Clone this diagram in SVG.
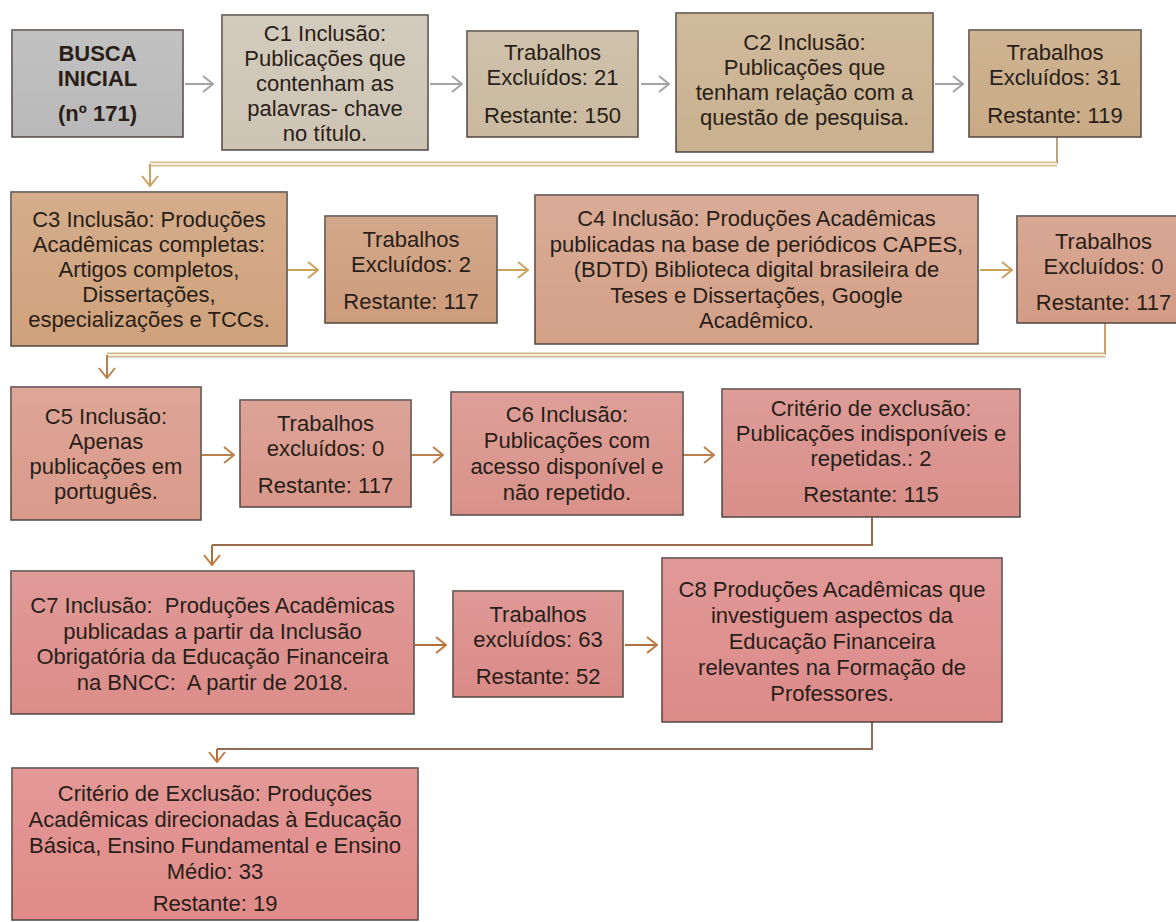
<svg xmlns="http://www.w3.org/2000/svg" width="1176" height="922" viewBox="0 0 1176 922">
<style>
.box{stroke:#4f4640;stroke-width:1.5}
.t{font-family:"Liberation Sans",Arial,sans-serif;font-size:22px;fill:#2a1e18;text-anchor:middle}
.b{font-weight:bold}
.a1{fill:none;stroke:#a3a3a3;stroke-width:2}
.a2{fill:none;stroke:#c9a35c;stroke-width:2}
.a3{fill:none;stroke:#b9824c;stroke-width:2}
.a4{fill:none;stroke:#b06e3e;stroke-width:2}
.band{fill:none;stroke:#d3bd92;stroke-width:5}
.bandin{fill:none;stroke:#f6efdb;stroke-width:2}
</style>
<defs>
<linearGradient id="sh" x1="0" y1="0" x2="0" y2="1">
<stop offset="0" stop-color="#ffffff" stop-opacity="0.12"/>
<stop offset="1" stop-color="#ffffff" stop-opacity="0"/>
</linearGradient>
<marker id="m1" viewBox="0 0 12 18" refX="11" refY="9" markerWidth="12" markerHeight="18" markerUnits="userSpaceOnUse" orient="auto"><path d="M1,1 L11,9 L1,17" fill="none" stroke="#a3a3a3" stroke-width="2"/></marker>
<marker id="m2" viewBox="0 0 12 18" refX="11" refY="9" markerWidth="12" markerHeight="18" markerUnits="userSpaceOnUse" orient="auto"><path d="M1,1 L11,9 L1,17" fill="none" stroke="#c9a35c" stroke-width="2"/></marker>
<marker id="m3" viewBox="0 0 12 18" refX="11" refY="9" markerWidth="12" markerHeight="18" markerUnits="userSpaceOnUse" orient="auto"><path d="M1,1 L11,9 L1,17" fill="none" stroke="#b9824c" stroke-width="2"/></marker>
<marker id="m4" viewBox="0 0 12 18" refX="11" refY="9" markerWidth="12" markerHeight="18" markerUnits="userSpaceOnUse" orient="auto"><path d="M1,1 L11,9 L1,17" fill="none" stroke="#c47a3e" stroke-width="2"/></marker>
</defs>
<rect width="1176" height="922" fill="#ffffff"/>

<g id="connectors">
<line class="a1" x1="185" y1="84" x2="213" y2="84" marker-end="url(#m1)"/>
<line class="a1" x1="430" y1="84" x2="462" y2="84" marker-end="url(#m1)"/>
<line class="a1" x1="641" y1="84" x2="669" y2="84" marker-end="url(#m1)"/>
<line class="a1" x1="935" y1="84" x2="963" y2="84" marker-end="url(#m1)"/>
<path d="M1057,137 V164" fill="none" stroke="#b5a27e" stroke-width="2"/>
<path class="band" d="M1057,164 H150"/>
<path class="bandin" d="M1057,164 H150"/>
<path class="a2" d="M150,164 V186" marker-end="url(#m2)"/>

<line class="a2" x1="288" y1="270" x2="318" y2="270" marker-end="url(#m2)"/>
<line class="a2" x1="498" y1="270" x2="528" y2="270" marker-end="url(#m2)"/>
<line class="a2" x1="980" y1="270" x2="1012" y2="270" marker-end="url(#m2)"/>
<path d="M1105,323 V355" fill="none" stroke="#c9a06c" stroke-width="2"/>
<path class="band" d="M1105,355 H107" style="stroke:#d4b68c"/>
<path class="bandin" d="M1105,355 H107"/>
<path class="a3" d="M107,355 V378" marker-end="url(#m3)"/>

<line class="a3" x1="202" y1="455" x2="234" y2="455" marker-end="url(#m3)"/>
<line class="a3" x1="412" y1="455" x2="443" y2="455" marker-end="url(#m3)"/>
<line class="a3" x1="683" y1="455" x2="714" y2="455" marker-end="url(#m3)"/>
<path d="M872,517 V545 H212" fill="none" stroke="#9c6b4e" stroke-width="2"/>
<path class="a4" d="M212,545 V565" marker-end="url(#m4)"/>

<line class="a4" x1="415" y1="645" x2="446" y2="645" marker-end="url(#m4)"/>
<line class="a4" x1="625" y1="645" x2="657" y2="645" marker-end="url(#m4)"/>
<path d="M872,722 V749 H217" fill="none" stroke="#8e6a58" stroke-width="2"/>
<path class="a4" d="M217,749 V762" marker-end="url(#m4)"/>
</g>

<g id="busca">
<rect class="box" x="12" y="30" width="171" height="107" fill="#b9b9b9"/>
<rect x="12" y="30" width="171" height="107" fill="url(#sh)"/>
<text class="t b"><tspan x="97.5" y="61">BUSCA</tspan><tspan x="97.5" y="86">INICIAL</tspan><tspan x="97.5" y="121">(nº 171)</tspan></text>
</g>

<g id="c1">
<rect class="box" x="222" y="15" width="206" height="135" fill="#cdc4b4"/>
<rect x="222" y="15" width="206" height="135" fill="url(#sh)"/>
<text class="t"><tspan x="325" y="41">C1 Inclusão:</tspan><tspan x="325" y="66">Publicações que</tspan><tspan x="325" y="91">contenham as</tspan><tspan x="325" y="116">palavras- chave</tspan><tspan x="325" y="141">no título.</tspan></text>
</g>

<g id="trab21">
<rect class="box" x="467" y="31" width="171" height="106" fill="#c9b9a0"/>
<rect x="467" y="31" width="171" height="106" fill="url(#sh)"/>
<text class="t"><tspan x="552.5" y="60">Trabalhos</tspan><tspan x="552.5" y="85">Excluídos: 21</tspan><tspan x="552.5" y="123">Restante: 150</tspan></text>
</g>

<g id="c2">
<rect class="box" x="676" y="13" width="257" height="139" fill="#c9b18f"/>
<rect x="676" y="13" width="257" height="139" fill="url(#sh)"/>
<text class="t"><tspan x="804.5" y="50">C2 Inclusão:</tspan><tspan x="804.5" y="75">Publicações que</tspan><tspan x="804.5" y="100">tenham relação com a</tspan><tspan x="804.5" y="125">questão de pesquisa.</tspan></text>
</g>

<g id="trab31">
<rect class="box" x="969" y="30" width="172" height="107" fill="#c8aa85"/>
<rect x="969" y="30" width="172" height="107" fill="url(#sh)"/>
<text class="t"><tspan x="1055" y="60">Trabalhos</tspan><tspan x="1055" y="85">Excluídos: 31</tspan><tspan x="1055" y="123">Restante: 119</tspan></text>
</g>

<g id="c3">
<rect class="box" x="11" y="192" width="276" height="154" fill="#cfa27c"/>
<rect x="11" y="192" width="276" height="154" fill="url(#sh)"/>
<text class="t"><tspan x="149" y="227">C3 Inclusão: Produções</tspan><tspan x="149" y="252">Acadêmicas completas:</tspan><tspan x="149" y="277">Artigos completos,</tspan><tspan x="149" y="302">Dissertações,</tspan><tspan x="149" y="327">especializações e TCCs.</tspan></text>
</g>

<g id="trab2">
<rect class="box" x="325" y="216" width="172" height="107" fill="#cd9c7c"/>
<rect x="325" y="216" width="172" height="107" fill="url(#sh)"/>
<text class="t"><tspan x="411" y="247">Trabalhos</tspan><tspan x="411" y="272">Excluídos: 2</tspan><tspan x="411" y="309">Restante: 117</tspan></text>
</g>

<g id="c4">
<rect class="box" x="535" y="195" width="443" height="149" fill="#d4a088"/>
<rect x="535" y="195" width="443" height="149" fill="url(#sh)"/>
<text class="t"><tspan x="756.5" y="226">C4 Inclusão: Produções Acadêmicas</tspan><tspan x="756.5" y="251.5">publicadas na base de periódicos CAPES,</tspan><tspan x="756.5" y="277">(BDTD) Biblioteca digital brasileira de</tspan><tspan x="756.5" y="302.5">Teses e Dissertações, Google</tspan><tspan x="756.5" y="328">Acadêmico.</tspan></text>
</g>

<g id="trab0a">
<rect class="box" x="1017" y="216" width="173" height="107" fill="#d39c86"/>
<rect x="1017" y="216" width="173" height="107" fill="url(#sh)"/>
<text class="t"><tspan x="1103.5" y="249">Trabalhos</tspan><tspan x="1103.5" y="274">Excluídos: 0</tspan><tspan x="1103.5" y="310">Restante: 117</tspan></text>
</g>

<g id="c5">
<rect class="box" x="11" y="387" width="190" height="133" fill="#d99a8a"/>
<rect x="11" y="387" width="190" height="133" fill="url(#sh)"/>
<text class="t"><tspan x="106" y="424">C5 Inclusão:</tspan><tspan x="106" y="449">Apenas</tspan><tspan x="106" y="474">publicações em</tspan><tspan x="106" y="499">português.</tspan></text>
</g>

<g id="trab0b">
<rect class="box" x="240" y="400" width="171" height="107" fill="#d8978a"/>
<rect x="240" y="400" width="171" height="107" fill="url(#sh)"/>
<text class="t"><tspan x="325.5" y="431">Trabalhos</tspan><tspan x="325.5" y="456">excluídos: 0</tspan><tspan x="325.5" y="493">Restante: 117</tspan></text>
</g>

<g id="c6">
<rect class="box" x="451" y="392" width="232" height="123" fill="#d9928a"/>
<rect x="451" y="392" width="232" height="123" fill="url(#sh)"/>
<text class="t"><tspan x="567" y="422">C6 Inclusão:</tspan><tspan x="567" y="448">Publicações com</tspan><tspan x="567" y="474">acesso disponível e</tspan><tspan x="567" y="500">não repetido.</tspan></text>
</g>

<g id="exclusao1">
<rect class="box" x="722" y="389" width="298" height="128" fill="#d98f8a"/>
<rect x="722" y="389" width="298" height="128" fill="url(#sh)"/>
<text class="t"><tspan x="871" y="416">Critério de exclusão:</tspan><tspan x="871" y="441">Publicações indisponíveis e</tspan><tspan x="871" y="466">repetidas.: 2</tspan><tspan x="871" y="502">Restante: 115</tspan></text>
</g>

<g id="c7">
<rect class="box" x="11" y="571" width="403" height="143" fill="#dc8d8a"/>
<rect x="11" y="571" width="403" height="143" fill="url(#sh)"/>
<text class="t" xml:space="preserve"><tspan x="212.5" y="613">C7 Inclusão:  Produções Acadêmicas</tspan><tspan x="212.5" y="638.5">publicadas a partir da Inclusão</tspan><tspan x="212.5" y="664">Obrigatória da Educação Financeira</tspan><tspan x="212.5" y="689.5">na BNCC:  A partir de 2018.</tspan></text>
</g>

<g id="trab63">
<rect class="box" x="453" y="591" width="170" height="106" fill="#da8b88"/>
<rect x="453" y="591" width="170" height="106" fill="url(#sh)"/>
<text class="t"><tspan x="538" y="622">Trabalhos</tspan><tspan x="538" y="647">excluídos: 63</tspan><tspan x="538" y="684">Restante: 52</tspan></text>
</g>

<g id="c8">
<rect class="box" x="662" y="558" width="340" height="164" fill="#dc8b89"/>
<rect x="662" y="558" width="340" height="164" fill="url(#sh)"/>
<text class="t"><tspan x="832" y="597">C8 Produções Acadêmicas que</tspan><tspan x="832" y="623">investiguem aspectos da</tspan><tspan x="832" y="649">Educação Financeira</tspan><tspan x="832" y="675">relevantes na Formação de</tspan><tspan x="832" y="701">Professores.</tspan></text>
</g>

<g id="exclusao2">
<rect class="box" x="12" y="768" width="406" height="152" fill="#e08b89"/>
<rect x="12" y="768" width="406" height="152" fill="url(#sh)"/>
<text class="t"><tspan x="215" y="801">Critério de Exclusão: Produções</tspan><tspan x="215" y="827">Acadêmicas direcionadas à Educação</tspan><tspan x="215" y="853">Básica, Ensino Fundamental e Ensino</tspan><tspan x="215" y="879">Médio: 33</tspan><tspan x="215" y="911">Restante: 19</tspan></text>
</g>
</svg>
